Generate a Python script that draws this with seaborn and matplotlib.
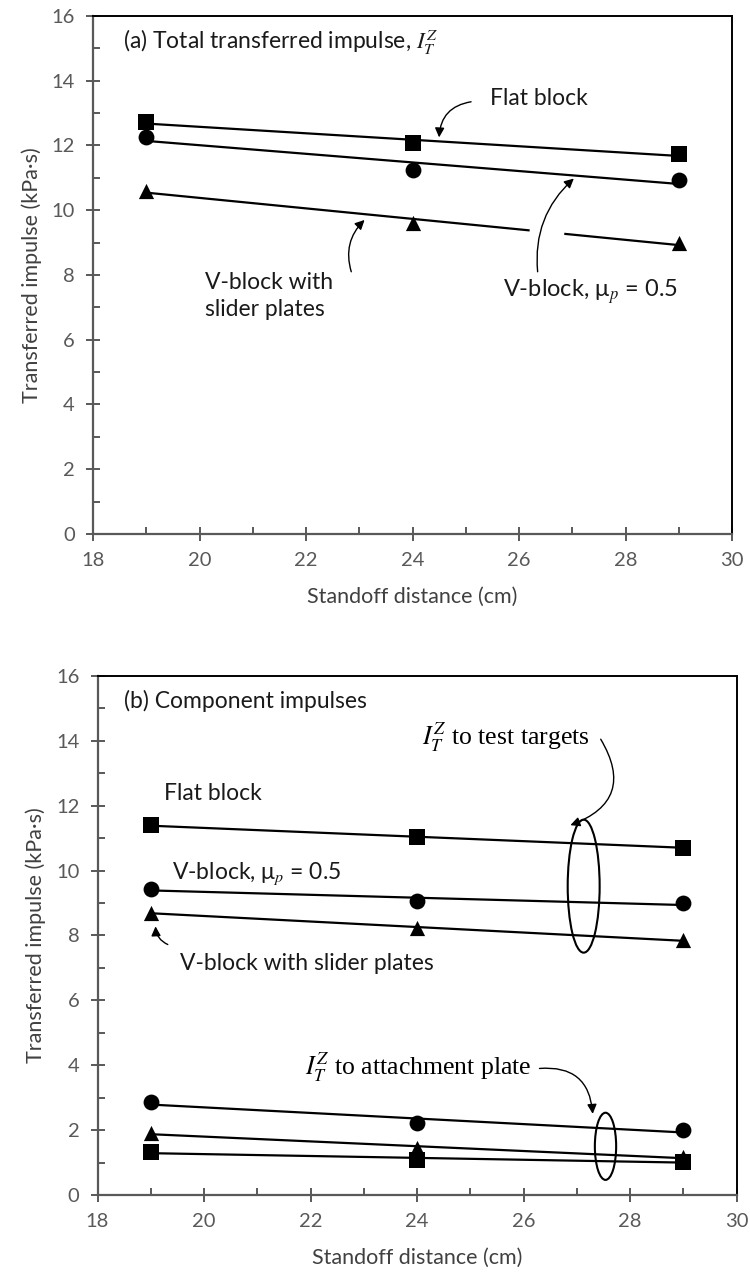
import numpy as np
import pandas as pd
import matplotlib
matplotlib.use("Agg")
import matplotlib.pyplot as plt
from matplotlib.patches import Ellipse
from matplotlib.ticker import MultipleLocator
import seaborn as sns

# Standoff distances (cm)
standoff = [19, 24, 29]

# (a) Total transferred impulse (kPa·s)
total_flat = [12.73, 12.07, 11.73]
total_vblock = [12.26, 11.24, 10.93]
total_slider = [10.60, 9.62, 8.98]

# (b) Component impulses to the test targets (kPa·s)
target_flat = [11.39, 11.03, 10.71]
target_vblock = [9.44, 9.06, 8.99]
target_slider = [8.70, 8.23, 7.85]

# (b) Component impulses to the attachment plate (kPa·s)
plate_flat = [1.32, 1.08, 1.03]
plate_vblock = [2.86, 2.21, 2.00]
plate_slider = [1.90, 1.45, 1.16]

x_ticks = [18, 20, 22, 24, 26, 28, 30]
y_ticks = [0, 2, 4, 6, 8, 10, 12, 14, 16]

sns.set_style("ticks")
plt.rcParams["font.family"] = ["Lato", "DejaVu Sans"]
plt.rcParams["mathtext.fontset"] = "stix"

GREY = "#595959"
TEXT = "#1a1a1a"
SERIF = ["Liberation Serif", "DejaVu Serif"]
ANN = 16.5      # annotation size (sans)
ANN_SERIF = 18.5

fig = plt.figure(figsize=(7.5, 12.79), dpi=100)
ax_a = fig.add_axes([0.124, 0.5825, 0.852, 0.405])
ax_b = fig.add_axes([0.130, 0.0657, 0.852, 0.4058])

markers = {"flat": ("s", 120), "vblock": ("o", 130), "slider": ("^", 120)}


def draw_series(ax, values, kind):
    marker, size = markers[kind]
    df = pd.DataFrame({"standoff": standoff, "impulse": values})
    sns.regplot(data=df, x="standoff", y="impulse", ax=ax, ci=None,
                marker=marker, color="black", truncate=True,
                scatter_kws=dict(s=size, linewidths=0, alpha=1, zorder=3),
                line_kws=dict(lw=1.6, zorder=2))


def style_axes(ax):
    ax.set_xlim(x_ticks[0], x_ticks[-1])
    ax.set_ylim(y_ticks[0], y_ticks[-1])
    ax.set_xticks(x_ticks)
    ax.set_yticks(y_ticks)
    ax.xaxis.set_minor_locator(MultipleLocator(1))
    ax.yaxis.set_minor_locator(MultipleLocator(1))
    ax.tick_params(which="major", direction="inout", length=10, width=1.4,
                   color=GREY, labelcolor=GREY, labelsize=14.5, pad=8)
    ax.tick_params(which="minor", direction="in", length=5, width=1.4, color=GREY)
    ax.tick_params(axis="x", which="both", top=False)
    ax.tick_params(axis="y", which="both", right=False)
    for side in ("left", "bottom"):
        ax.spines[side].set_color(GREY)
        ax.spines[side].set_linewidth(1.6)
    for side in ("top", "right"):
        ax.spines[side].set_visible(True)
        ax.spines[side].set_color("black")
        ax.spines[side].set_linewidth(1.4)
    ax.set_xlabel("Standoff distance (cm)", fontsize=15.5, color="#404040", labelpad=13)
    ax.set_ylabel("Transferred impulse (kPa·s)", fontsize=15.5, color="#404040", labelpad=7)


def curved_arrow(ax, tail, head, rad):
    ax.annotate("", xy=head, xytext=tail,
                arrowprops=dict(arrowstyle="-|>", color="black", lw=1.0,
                                mutation_scale=14, shrinkA=0, shrinkB=0,
                                connectionstyle=f"arc3,rad={rad}"))


# ---- (a) total transferred impulse ----
draw_series(ax_a, total_flat, "flat")
draw_series(ax_a, total_vblock, "vblock")
draw_series(ax_a, total_slider, "slider")

# break in the slider-plate fit where the leader line crosses it
fit = np.polyfit(standoff, total_slider, 1)
gap_x = np.array([26.2, 26.85])
ax_a.plot(gap_x, np.polyval(fit, gap_x), color="white", lw=4, zorder=2.5,
          solid_capstyle="butt")

style_axes(ax_a)
ax_a.text(18.56, 15.2, r"(a) Total transferred impulse, $I_T^Z$", fontsize=ANN,
          color=TEXT, va="center")
ax_a.text(25.45, 13.45, "Flat block", fontsize=ANN, color=TEXT, va="center")
curved_arrow(ax_a, (25.1, 13.35), (24.5, 12.25), 0.4)
ax_a.text(25.7, 7.5, r"V-block, μ$_p$ = 0.5", fontsize=17, color=TEXT, va="center")
curved_arrow(ax_a, (26.35, 8.1), (27.03, 10.98), -0.25)
ax_a.text(20.1, 7.35, "V-block with\nslider plates", fontsize=ANN, color=TEXT,
          va="center", linespacing=1.35)
curved_arrow(ax_a, (22.85, 8.1), (23.1, 9.7), -0.3)

# ---- (b) component impulses ----
for vals, kind in [(target_flat, "flat"), (target_vblock, "vblock"),
                   (target_slider, "slider"), (plate_flat, "flat"),
                   (plate_vblock, "vblock"), (plate_slider, "slider")]:
    draw_series(ax_b, vals, kind)

style_axes(ax_b)
ax_b.text(18.5, 15.23, "(b) Component impulses", fontsize=ANN, color=TEXT, va="center")
ax_b.text(19.25, 12.37, "Flat block", fontsize=ANN, color=TEXT, va="center")
ax_b.text(19.4, 9.9, r"V-block, μ$_p$ = 0.5", fontsize=ANN, color=TEXT, va="center")
ax_b.text(19.55, 7.14, "V-block with slider plates", fontsize=ANN, color=TEXT, va="center")
curved_arrow(ax_b, (19.32, 7.72), (19.09, 8.28), -0.3)

ax_b.add_patch(Ellipse((27.13, 9.52), width=0.6, height=4.1, fill=False,
                       lw=1.5, color="black", zorder=4))
ax_b.add_patch(Ellipse((27.54, 1.5), width=0.4, height=2.07, fill=False,
                       lw=1.5, color="black", zorder=4))

ax_b.text(24.1, 14.1, r"$I_T^Z$ to test targets", fontsize=ANN_SERIF, color="black",
          va="center", family=SERIF)
curved_arrow(ax_b, (27.45, 14.05), (26.88, 11.4), -0.6)
ax_b.text(21.9, 3.95, r"$I_T^Z$ to attachment plate", fontsize=ANN_SERIF, color="black",
          va="center", family=SERIF)
curved_arrow(ax_b, (26.3, 3.9), (27.3, 2.5), -0.5)

fig.savefig("out.png", dpi=100, facecolor="white")
